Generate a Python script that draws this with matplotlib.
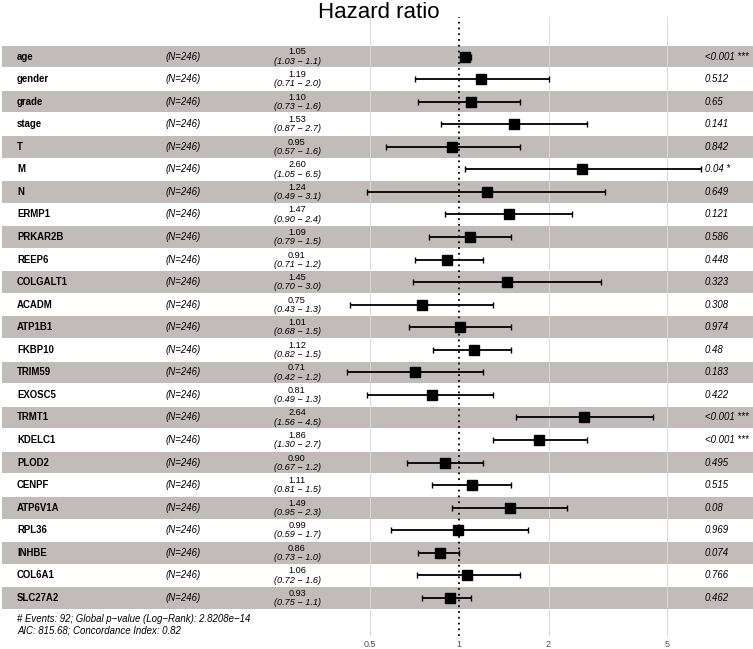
import numpy as np
import matplotlib
matplotlib.use("Agg")
import matplotlib.pyplot as plt
from matplotlib.transforms import blended_transform_factory

plt.rcParams['font.family'] = ['Liberation Sans', 'DejaVu Sans']

# data
variables = ['age', 'gender', 'grade', 'stage', 'T', 'M', 'N', 'ERMP1', 'PRKAR2B',
             'REEP6', 'COLGALT1', 'ACADM', 'ATP1B1', 'FKBP10', 'TRIM59', 'EXOSC5',
             'TRMT1', 'KDELC1', 'PLOD2', 'CENPF', 'ATP6V1A', 'RPL36', 'INHBE',
             'COL6A1', 'SLC27A2']
n_obs = [246] * len(variables)
hr = [1.05, 1.19, 1.10, 1.53, 0.95, 2.60, 1.24, 1.47, 1.09, 0.91, 1.45, 0.75, 1.01,
      1.12, 0.71, 0.81, 2.64, 1.86, 0.90, 1.11, 1.49, 0.99, 0.86, 1.06, 0.93]
ci_low = [1.03, 0.71, 0.73, 0.87, 0.57, 1.05, 0.49, 0.90, 0.79, 0.71, 0.70, 0.43, 0.68,
          0.82, 0.42, 0.49, 1.56, 1.30, 0.67, 0.81, 0.95, 0.59, 0.73, 0.72, 0.75]
ci_high = [1.1, 2.0, 1.6, 2.7, 1.6, 6.5, 3.1, 2.4, 1.5, 1.2, 3.0, 1.3, 1.5,
           1.5, 1.2, 1.3, 4.5, 2.7, 1.2, 1.5, 2.3, 1.7, 1.0, 1.6, 1.1]
ci_low_txt = ['1.03', '0.71', '0.73', '0.87', '0.57', '1.05', '0.49', '0.90', '0.79',
              '0.71', '0.70', '0.43', '0.68', '0.82', '0.42', '0.49', '1.56', '1.30',
              '0.67', '0.81', '0.95', '0.59', '0.73', '0.72', '0.75']
ci_high_txt = ['1.1', '2.0', '1.6', '2.7', '1.6', '6.5', '3.1', '2.4', '1.5', '1.2',
               '3.0', '1.3', '1.5', '1.5', '1.2', '1.3', '4.5', '2.7', '1.2', '1.5',
               '2.3', '1.7', '1.0', '1.6', '1.1']
pvals = ['<0.001 ***', '0.512', '0.65', '0.141', '0.842', '0.04 *', '0.649', '0.121',
         '0.586', '0.448', '0.323', '0.308', '0.974', '0.48', '0.183', '0.422',
         '<0.001 ***', '<0.001 ***', '0.495', '0.515', '0.08', '0.969', '0.074',
         '0.766', '0.462']
ticks = [0.5, 1, 2, 5]
footer = ['# Events: 92; Global p\u2212value (Log\u2212Rank): 2.8208e\u221214',
          'AIC: 815.68; Concordance Index: 0.82']

W, H = 753, 649
fig = plt.figure(figsize=(W / 100, H / 100), dpi=100)

# axes spans full width; pixel rows 17..636
top_px, bot_px = 17, 636
ax = fig.add_axes([0, (H - bot_px) / H, 1, (bot_px - top_px) / H])

# x mapping: pixel = 459 + 89.5*log2(v)
x0_px, per_log2 = 459, 89.5
ax.set_xscale('log')
ax.set_xlim(2 ** ((0 - x0_px) / per_log2), 2 ** ((W - x0_px) / per_log2))
# y mapping: row i centre at pixel 56.5 + 22.56*i
y0_px, row_h = 56.5, 22.56
ax.set_ylim((bot_px - y0_px) / row_h, (top_px - y0_px) / row_h)

for s in ax.spines.values():
    s.set_visible(False)
ax.set_yticks([])
ax.minorticks_off()

n = len(variables)
rows = np.arange(n)
bt = blended_transform_factory(ax.transAxes, ax.transData)

for i in rows:
    if i % 2 == 0:
        ax.fill_between([2 / W, 1], i - 0.48, i + 0.48, transform=bt,
                        color='#C1BCB9', lw=0, zorder=1)

for t in ticks:
    if t != 1:
        ax.axvline(t, color='#D9D9D9', lw=0.7, zorder=2)
ax.axvline(1, color='black', lw=1.3, ls=(0, (1, 2.2)), zorder=3)

ax.errorbar(hr, rows, xerr=[np.array(hr) - np.array(ci_low), np.array(ci_high) - np.array(hr)],
            fmt='none', ecolor='black', elinewidth=1.3, capsize=2, capthick=1, zorder=4)
ax.plot(hr, rows, 's', color='black', ms=7, zorder=5)

fs = 6.9
for i in rows:
    ax.text(17 / W, i, variables[i], transform=bt, ha='left', va='center',
            fontsize=fs, fontweight='bold', zorder=6)
    ax.text(183 / W, i, f'(N={n_obs[i]})', transform=bt, ha='center', va='center',
            fontsize=fs, style='italic', zorder=6)
    ax.text(297 / W, i - 0.2, f'{hr[i]:.2f}', transform=bt, ha='center', va='center',
            fontsize=6.6, zorder=6)
    ax.text(297 / W, i + 0.21, f'({ci_low_txt[i]} \u2212 {ci_high_txt[i]})', transform=bt,
            ha='center', va='center', fontsize=6.6, style='italic', zorder=6)
    ax.text(705 / W, i, pvals[i], transform=bt, ha='left', va='center',
            fontsize=fs, style='italic', zorder=6)

ax.text(17 / W, (619 - y0_px) / row_h, footer[0], transform=bt, ha='left',
        va='center', fontsize=fs, style='italic')
ax.text(17 / W, (631 - y0_px) / row_h, footer[1], transform=bt, ha='left',
        va='center', fontsize=fs, style='italic')

ax.set_xticks(ticks)
ax.set_xticklabels([str(t) for t in ticks])
ax.tick_params(axis='x', length=0, pad=3, labelsize=6.5, labelcolor='#4D4D4D')

fig.text(379 / W, 1 - 12 / H, 'Hazard ratio', ha='center', va='center', fontsize=16)

fig.savefig('out.png', dpi=100)
